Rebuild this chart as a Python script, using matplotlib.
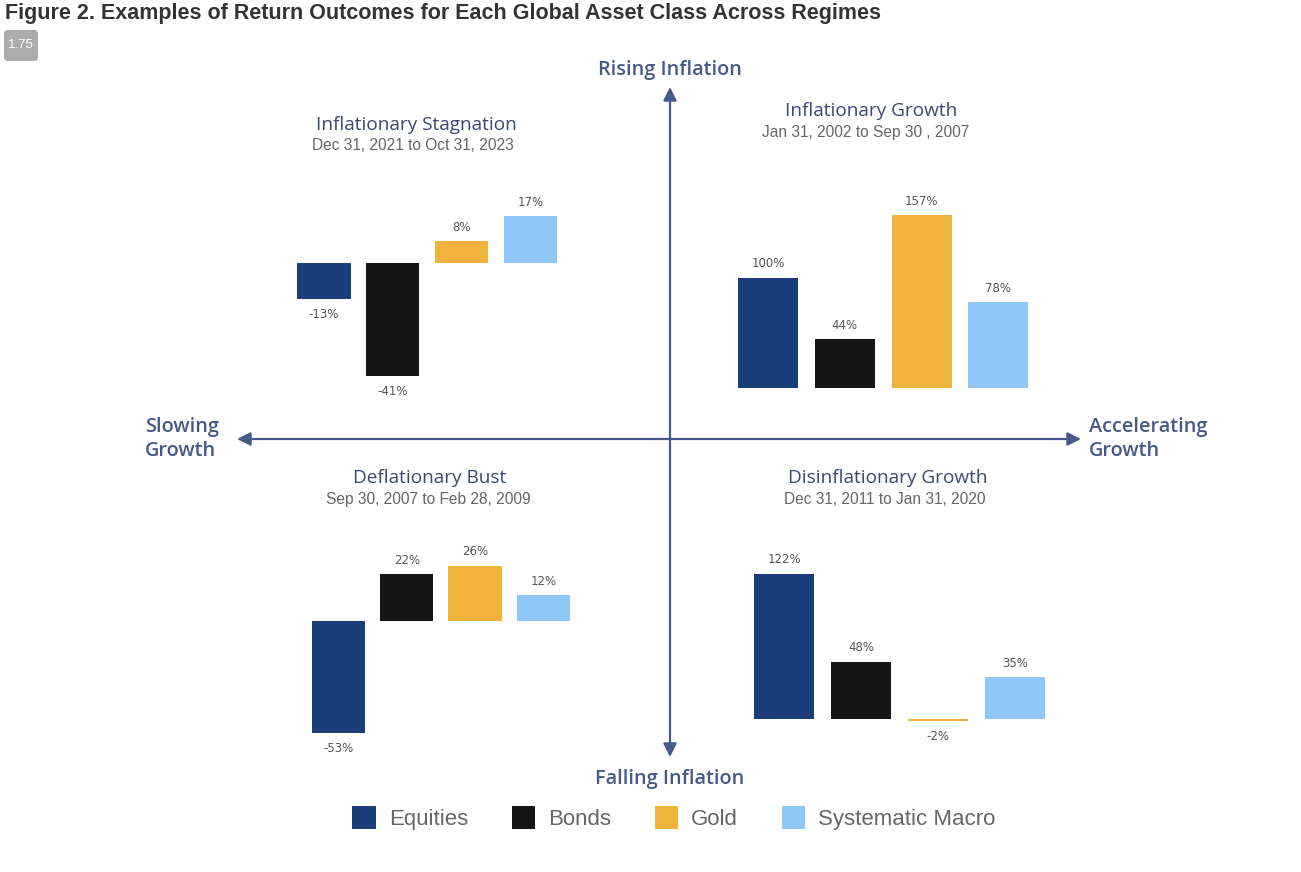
import matplotlib
matplotlib.use("Agg")
import matplotlib.pyplot as plt
from matplotlib.patches import Patch, FancyBboxPatch, FancyArrowPatch
from matplotlib.transforms import IdentityTransform

W, H, DPI = 1301, 872, 100

# ---------------- data ----------------
assets = ["Equities", "Bonds", "Gold", "Systematic Macro"]
asset_colors = ["#1b3e7a", "#151515", "#efb33a", "#8fc8f6"]

regimes = ["Inflationary Stagnation", "Inflationary Growth",
           "Deflationary Bust", "Disinflationary Growth"]
periods = ["Dec 31, 2021 to Oct 31, 2023", "Jan 31, 2002 to Sep 30 , 2007",
           "Sep 30, 2007 to Feb 28, 2009", "Dec 31, 2011 to Jan 31, 2020"]
stagnation = [-13, -41, 8, 17]
infl_growth = [100, 44, 157, 78]
defl_bust = [-53, 22, 26, 12]
disinfl_growth = [122, 48, -2, 35]
regime_values = [stagnation, infl_growth, defl_bust, disinfl_growth]

axis_labels = {"top": "Rising Inflation", "bottom": "Falling Inflation",
               "left": "Slowing\nGrowth", "right": "Accelerating\nGrowth"}
fig_title = "Figure 2. Examples of Return Outcomes for Each Global Asset Class Across Regimes"
badge = "1.75"

# ---------------- layout (pixels) ----------------
# first bar centre, bar pitch, zero-line y, px per unit, ylim
quad_layout = [
    (323.7, 68.9, 263.0, 2.76, (-50, 25)),
    (768.0, 76.8, 387.7, 1.10, (-20, 175)),
    (338.3, 68.4, 620.7, 2.12, (-60, 35)),
    (784.0, 77.0, 718.7, 1.19, (-20, 135)),
]
title_pos = [((416, 125), (413, 145)),
             ((871, 111), (866, 132)),
             ((430, 478), (428, 499)),
             ((888, 478), (885, 499))]

NAVY_TXT = "#3c4772"
AX_COL = "#45598a"
GREY = "#666666"

def fx(px):
    return px / W

def fy(py):
    return 1 - py / H

fig = plt.figure(figsize=(W / DPI, H / DPI), dpi=DPI)
fig.patch.set_facecolor("white")

for vals, (c0, pitch, base, scale, (ylo, yhi)), (tp, sp), name, per in zip(
        regime_values, quad_layout, title_pos, regimes, periods):
    left = c0 - 0.5 * pitch
    width = 4 * pitch
    top = base - yhi * scale
    bottom = base - ylo * scale
    ax = fig.add_axes([fx(left), fy(bottom), width / W, (bottom - top) / H])
    x = list(range(len(assets)))
    ax.bar(x, vals, width=0.78, color=asset_colors, linewidth=0)
    for xi, v in zip(x, vals):
        off = 10 if v >= 0 else -11
        ax.annotate(f"{v}%", (xi, v), xytext=(0, off), textcoords="offset points",
                    ha="center", va="center", fontsize=8.5, color="#555555",
                    family="DejaVu Sans")
    ax.set_xlim(-0.5, 3.5)
    ax.set_ylim(ylo, yhi)
    ax.axis("off")
    fig.text(fx(tp[0]), fy(tp[1]), name, ha="center", va="center",
             fontsize=13.7, color=NAVY_TXT, family="Open Sans")
    fig.text(fx(sp[0]), fy(sp[1]), per, ha="center", va="center",
             fontsize=11.2, color=GREY, family="Liberation Sans")

# quadrant axes arrows
arrow_kw = dict(arrowstyle="<|-|>,head_length=0.8,head_width=0.4",
                mutation_scale=10, color=AX_COL, linewidth=1.6,
                transform=IdentityTransform(), shrinkA=0, shrinkB=0)
fig.patches.append(FancyArrowPatch((670, H - 757), (670, H - 87), **arrow_kw))
fig.patches.append(FancyArrowPatch((237, H - 439), (1081, H - 439), **arrow_kw))

ax_txt = dict(fontsize=14.3, color=AX_COL, family="Open Sans", fontweight="semibold")
fig.text(fx(670), fy(70), axis_labels["top"], ha="center", va="center", **ax_txt)
fig.text(fx(670), fy(779), axis_labels["bottom"], ha="center", va="center", **ax_txt)
fig.text(fx(145), fy(439), axis_labels["left"], ha="left", va="center",
         linespacing=1.3, **ax_txt)
fig.text(fx(1089), fy(439), axis_labels["right"], ha="left", va="center",
         linespacing=1.3, **ax_txt)

# figure title and badge
fig.text(fx(5), fy(13), fig_title, ha="left", va="center", fontsize=15.5,
         fontweight="bold", color="#333333", family="Liberation Sans")
fig.patches.append(FancyBboxPatch((4, H - 61), 34, 31,
                                  boxstyle="round,pad=0,rounding_size=4",
                                  facecolor="#acacac", edgecolor="none",
                                  transform=IdentityTransform()))
fig.text(fx(21), fy(45.5), badge, ha="center", va="center", fontsize=9.5,
         color="white", family="Liberation Sans")

# legend
handles = [Patch(facecolor=c, edgecolor="none", label=a)
           for a, c in zip(assets, asset_colors)]
fig.legend(handles=handles, loc="center", bbox_to_anchor=(fx(674), fy(818)),
           ncol=4, frameon=False, handlelength=1.05,
           handleheight=1.2, handletextpad=0.6, columnspacing=1.95,
           labelcolor="#666666", prop={"family": "Liberation Sans", "size": 16})

fig.savefig("out.png", dpi=DPI, facecolor="white")
